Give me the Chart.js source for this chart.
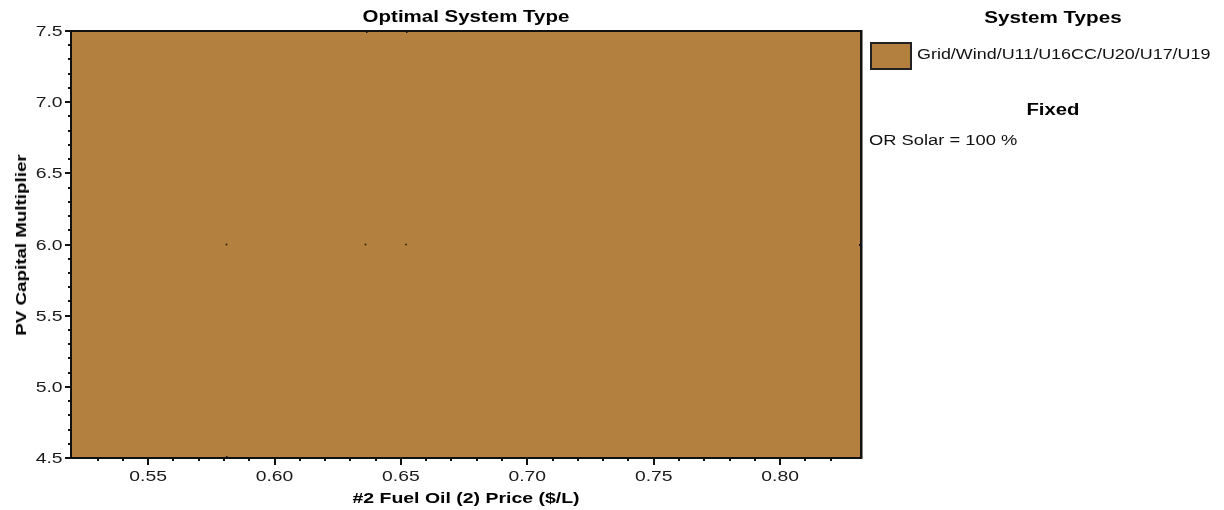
<!DOCTYPE html>
<html>
<head>
<meta charset="utf-8">
<script src="https://cdn.jsdelivr.net/npm/chart.js@4.4.1/dist/chart.umd.min.js"></script>
<style>
  html, body { margin: 0; padding: 0; background: #fff; }
  #wrap { position: relative; width: 1224px; height: 510px; overflow: hidden;
          font-family: "Liberation Sans", Arial, sans-serif; color: #000; }
  #wrap canvas { position: absolute; left: 0; top: 0; }
  .t { position: absolute; white-space: nowrap; height: 20px; line-height: 20px; }
  .bold { font-weight: bold; }
  .reg { font-size: 14px; color: #111; transform-origin: 0 50%; }
  #title { left: 466px; top: 7px; font-size: 16px; transform: translateX(-50%) scaleX(1.28); }
  #xTitle { left: 466px; top: 488px; font-size: 14px; transform: translateX(-50%) scaleX(1.39); }
  #yTitle { left: 21px; top: 244.5px; font-size: 14px; transform: translate(-50%, -50%) rotate(-90deg) scaleX(1.34); }
  #legTitle { left: 1053px; top: 8px; font-size: 16px; transform: translateX(-50%) scaleX(1.29); }
  #swatch { position: absolute; left: 870px; top: 42px; width: 42px; height: 28px;
            box-sizing: border-box; border: 2px solid #222; }
  #legItem { left: 917px; top: 44px; transform: scaleX(1.28); }
  #fixedTitle { left: 1053px; top: 100px; font-size: 16px; transform: translateX(-50%) scaleX(1.27); }
  #fixedItem { left: 869px; top: 130px; transform: scaleX(1.31); }
</style>
</head>
<body>
<div id="wrap">
  <canvas id="chart" width="1224" height="510"></canvas>
  <div id="title" class="t bold">Optimal System Type</div>
  <div id="xTitle" class="t bold">#2 Fuel Oil (2) Price ($/L)</div>
  <div id="yTitle" class="t bold">PV Capital Multiplier</div>
  <div id="legTitle" class="t bold">System Types</div>
  <div id="swatch"></div>
  <div id="legItem" class="t reg"></div>
  <div id="fixedTitle" class="t bold">Fixed</div>
  <div id="fixedItem" class="t reg"></div>
</div>
<script>
// Axis ranges (fuel price in $/L, PV capital multiplier)
const fuelPriceRange = [0.5195, 0.832];
const pvMultiplierRange = [4.5, 7.5];

// Labelled ticks
const xTickValues = [0.55, 0.60, 0.65, 0.70, 0.75, 0.80];
const xTickLabels = ['0.55', '0.60', '0.65', '0.70', '0.75', '0.80'];
const yTickValues = [4.5, 5.0, 5.5, 6.0, 6.5, 7.0, 7.5];
const yTickLabels = ['4.5', '5.0', '5.5', '6.0', '6.5', '7.0', '7.5'];
const xMinorStep = 0.01;
const yMinorStep = 0.1;

// Optimal system type region: one system type covers the whole search space
const systemTypes = ['Grid/Wind/U11/U16CC/U20/U17/U19'];
const systemColors = ['#B3803F'];
const regionFuelPrice = [0.5195, 0.832];
const regionPvTop = [7.5, 7.5];

// Sensitivity cases that were simulated
const caseFuelPrice = [0.581, 0.636, 0.652];
const casePvMultiplier = [6.0, 6.0, 6.0];

// Small edge marks along the frame
const topEdgeMarks = [0.636, 0.652];
const bottomEdgeMarks = [0.581];
const rightEdgeMarks = [6.0];

// Fixed sensitivity values
const fixedLabels = ['OR Solar = 100 %'];

document.getElementById('legItem').textContent = systemTypes[0];
document.getElementById('swatch').style.background = systemColors[0];
document.getElementById('fixedItem').textContent = fixedLabels[0];

const isMultiple = (v, step) => Math.abs(v / step - Math.round(v / step)) < 1e-6;
const isLabelled = (v, list) => list.some(u => Math.abs(u - v) < 1e-6);

const TICK_FONT = '14px "Liberation Sans", Arial, sans-serif';
const TICK_STRETCH = 1.38;

const frameAndTicks = {
  id: 'frameAndTicks',
  afterDatasetsDraw(chart) {
    const { ctx, chartArea: a, scales: { x, y } } = chart;
    ctx.save();
    ctx.fillStyle = '#111';
    // frame
    ctx.fillRect(a.left - 1, a.top - 1, a.right - a.left + 2, 2);
    ctx.fillRect(a.left - 1, a.bottom - 1, a.right - a.left + 2, 2);
    ctx.fillRect(a.left - 1, a.top - 1, 2, a.bottom - a.top + 2);
    ctx.fillRect(a.right - 1, a.top - 1, 2.5, a.bottom - a.top + 2);
    // y tick marks (minor every 0.1, long at labelled values)
    y.ticks.forEach(t => {
      if (!isMultiple(t.value, yMinorStep)) return;
      const py = Math.round(y.getPixelForValue(t.value));
      const len = isLabelled(t.value, yTickValues) ? 6 : 3;
      ctx.fillRect(a.left - len, py - 1, len, 2);
    });
    // x tick marks
    x.ticks.forEach(t => {
      if (!isMultiple(t.value, xMinorStep)) return;
      const px = Math.round(x.getPixelForValue(t.value));
      const len = isLabelled(t.value, xTickValues) ? 7 : 3;
      ctx.fillRect(px - 1, a.bottom, 2, len);
    });
    // edge marks
    topEdgeMarks.forEach(v => {
      const px = Math.round(x.getPixelForValue(v));
      ctx.fillRect(px, a.top, 1.5, 2);
    });
    bottomEdgeMarks.forEach(v => {
      const px = Math.round(x.getPixelForValue(v));
      ctx.fillRect(px, a.bottom - 2, 1.5, 2);
    });
    rightEdgeMarks.forEach(v => {
      const py = Math.round(y.getPixelForValue(v));
      ctx.fillRect(a.right - 2, py - 1, 2, 2);
    });

    // tick labels
    ctx.font = TICK_FONT;
    ctx.fillStyle = '#1a1a1a';
    ctx.textBaseline = 'alphabetic';
    ctx.textAlign = 'right';
    yTickValues.forEach((v, i) => {
      const py = y.getPixelForValue(v);
      ctx.save();
      ctx.translate(a.left - 8.5, py + 5);
      ctx.scale(TICK_STRETCH, 1);
      ctx.fillText(yTickLabels[i], 0, 0);
      ctx.restore();
    });
    ctx.textAlign = 'center';
    xTickValues.forEach((v, i) => {
      const px = x.getPixelForValue(v);
      ctx.save();
      ctx.translate(px, a.bottom + 23);
      ctx.scale(TICK_STRETCH, 1);
      ctx.fillText(xTickLabels[i], 0, 0);
      ctx.restore();
    });
    ctx.restore();
  }
};

new Chart(document.getElementById('chart'), {
  type: 'scatter',
  data: {
    datasets: [
      {
        label: 'Sensitivity cases',
        data: caseFuelPrice.map((v, i) => ({ x: v, y: casePvMultiplier[i] })),
        pointStyle: 'rect',
        pointRadius: 1.2,
        pointBackgroundColor: '#2a1a0a',
        pointBorderWidth: 0,
        order: 0
      },
      {
        type: 'line',
        label: systemTypes[0],
        data: regionFuelPrice.map((v, i) => ({ x: v, y: regionPvTop[i] })),
        fill: 'start',
        backgroundColor: systemColors[0],
        borderWidth: 0,
        pointRadius: 0,
        order: 1
      }
    ]
  },
  options: {
    responsive: false,
    animation: false,
    events: [],
    layout: { padding: { left: 0, top: 31, right: 363, bottom: 0 } },
    plugins: { legend: { display: false }, tooltip: { enabled: false }, title: { display: false } },
    scales: {
      x: {
        type: 'linear',
        min: fuelPriceRange[0],
        max: fuelPriceRange[1],
        border: { display: false },
        grid: { display: false, drawTicks: false },
        ticks: { stepSize: xMinorStep, autoSkip: false, display: false },
        afterFit: s => { s.height = 52; }
      },
      y: {
        type: 'linear',
        min: pvMultiplierRange[0],
        max: pvMultiplierRange[1],
        border: { display: false },
        grid: { display: false, drawTicks: false },
        ticks: { stepSize: yMinorStep, autoSkip: false, display: false },
        afterFit: s => { s.width = 71; }
      }
    }
  },
  plugins: [frameAndTicks]
});
</script>
</body>
</html>
